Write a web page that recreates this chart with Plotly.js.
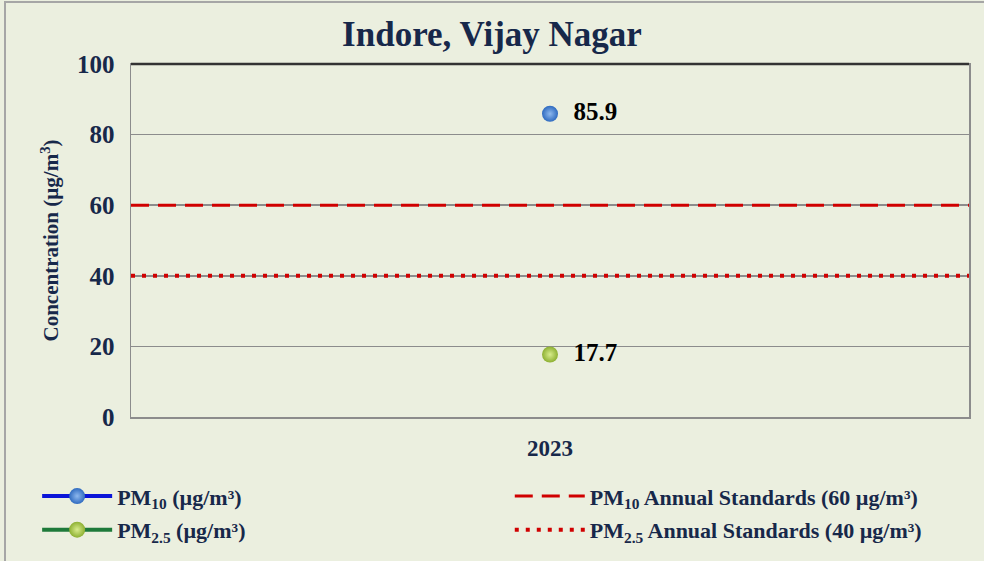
<!DOCTYPE html>
<html>
<head>
<meta charset="utf-8">
<script src="https://cdn.plot.ly/plotly-3.0.1.min.js"></script>
<style>
  html, body { margin: 0; padding: 0; background: #EBEFDF; }
  #wrap { position: relative; width: 984px; height: 561px; overflow: hidden; }
  #frame { position: absolute; left: 4px; top: 1px; width: 1000px; height: 600px; border: 2px solid #A6A6A6; box-sizing: border-box; pointer-events: none; z-index: 5; }
  #chart { width: 984px; height: 561px; }
</style>
</head>
<body>
<div id="wrap">
<div id="chart"></div>
<div id="frame"></div>
</div>
<script>
// ---- data ----
const years = ['2023'];
const pm10 = [85.9];
const pm25 = [17.7];
const pm10Standard = 60;
const pm25Standard = 40;
const yTicks = [0, 20, 40, 60, 80, 100];

const FONT = 'Liberation Serif, Times New Roman, serif';
const NAVY = '#17284A';
const xIdx = years.map((_, i) => i);
const xRange = [-0.5, years.length - 0.5];

const traces = [
  {
    x: xIdx, y: pm10, name: '<b>PM<sub>10</sub> (µg/m³)</b>',
    type: 'scatter', mode: 'lines+markers+text',
    text: pm10.map(v => '<b>  ' + v.toFixed(1) + '</b>'),
    textposition: 'middle right',
    textfont: { family: FONT, size: 25, color: '#000' },
    line: { color: '#0A14D8', width: 4 },
    marker: { size: 16, color: '#2F6BC0', gradient: { type: 'radial', color: '#8DB8EE' } },
    cliponaxis: false,
    legend: 'legend', legendgroup: 'a'
  },
  {
    x: xIdx, y: pm25, name: '<b>PM<sub>2.5</sub> (µg/m³)</b>',
    type: 'scatter', mode: 'lines+markers+text',
    text: pm25.map(v => '<b>  ' + v.toFixed(1) + '</b>'),
    textposition: 'middle right',
    textfont: { family: FONT, size: 25, color: '#000' },
    line: { color: '#1E7A3A', width: 4 },
    marker: { size: 16, color: '#8DB032', gradient: { type: 'radial', color: '#D8EC8C' } },
    cliponaxis: false,
    legend: 'legend', legendgroup: 'b'
  },
  {
    x: xRange, y: xRange.map(() => pm10Standard),
    name: '<b>PM<sub>10</sub> Annual Standards (60 µg/m³)</b>',
    type: 'scatter', mode: 'lines',
    line: { color: '#D00000', width: 3, dash: '18px,9px' },
    hoverinfo: 'skip',
    legend: 'legend2', legendgroup: 'c'
  },
  {
    x: xRange, y: xRange.map(() => pm25Standard),
    name: '<b>PM<sub>2.5</sub> Annual Standards (40 µg/m³)</b>',
    type: 'scatter', mode: 'lines',
    line: { color: '#D00000', width: 4, dash: '4px,7px' },
    hoverinfo: 'skip',
    legend: 'legend2', legendgroup: 'd'
  }
];

const legendBase = {
  orientation: 'v',
  y: -0.165, yanchor: 'top',
  font: { family: FONT, size: 22, color: NAVY },
  bgcolor: 'rgba(0,0,0,0)',
  tracegroupgap: 2,
  itemwidth: 70,
  traceorder: 'grouped'
};

const layout = {
  width: 984, height: 561,
  paper_bgcolor: '#EBEFDF',
  plot_bgcolor: '#EBEFDF',
  margin: { l: 131, r: 15, t: 64, b: 144, autoexpand: false },
  font: { family: FONT, color: NAVY },
  title: {
    text: '<b>Indore, Vijay Nagar</b>',
    font: { family: FONT, size: 35, color: NAVY },
    x: 0.5, xanchor: 'center', y: 0.94, yanchor: 'middle'
  },
  xaxis: {
    range: xRange,
    tickvals: xIdx,
    ticktext: years.map(y => '<b>' + y + '</b>'),
    tickfont: { family: FONT, size: 23, color: NAVY },
    showgrid: false, zeroline: false,
    showline: true, linecolor: '#8C8C8C', linewidth: 1.5, mirror: true,
    ticks: '', ticklabelstandoff: 10,
    fixedrange: true
  },
  yaxis: {
    range: [0, 100],
    tickvals: yTicks,
    ticktext: yTicks.map(v => '<b>' + v + '</b>'),
    tickfont: { family: FONT, size: 25, color: NAVY },
    showgrid: true, gridcolor: '#8C8C8C', gridwidth: 1.5,
    zeroline: false,
    showline: true, linecolor: '#8C8C8C', linewidth: 1.5, mirror: true,
    ticks: '', ticklabelstandoff: 10,
    title: { text: '<b>Concentration (µg/m<sup>3</sup>)</b>', font: { family: FONT, size: 21, color: NAVY }, standoff: 12 },
    fixedrange: true
  },
  shapes: [
    { type: 'line', xref: 'paper', yref: 'paper', x0: 0, x1: 1, y0: 1, y1: 1, line: { color: '#333333', width: 2.5 } }
  ],
  showlegend: true,
  legend: Object.assign({}, legendBase, { x: -0.112, xanchor: 'left' }),
  legend2: Object.assign({}, legendBase, { x: 0.452, xanchor: 'left' })
};

Plotly.newPlot('chart', traces, layout, { displayModeBar: false, staticPlot: true });
</script>
</body>
</html>
